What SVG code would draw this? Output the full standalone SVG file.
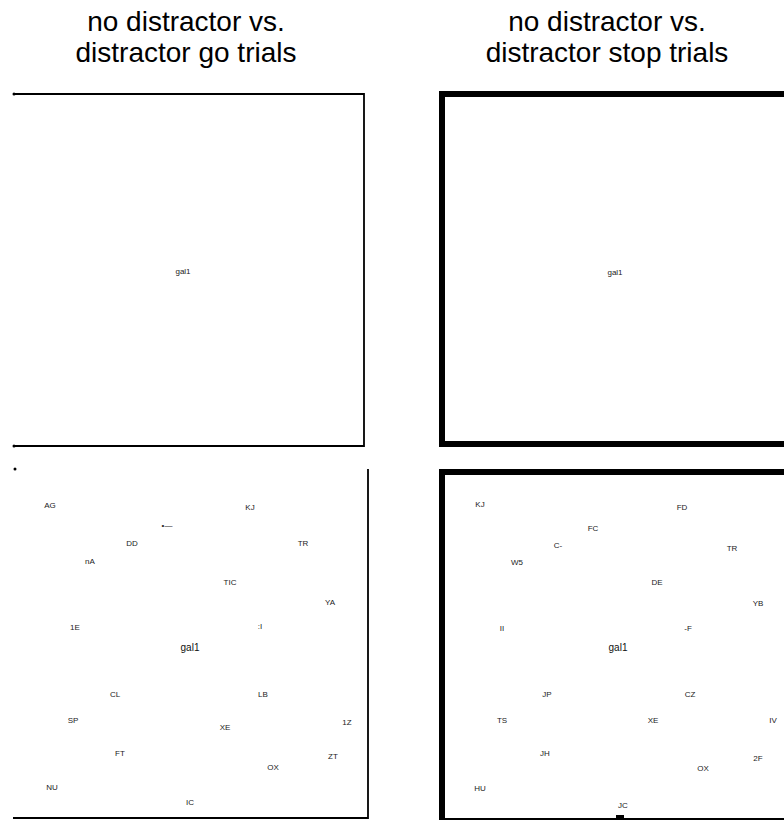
<svg xmlns="http://www.w3.org/2000/svg" width="784" height="820" viewBox="0 0 784 820">
  <style>
    .title { font-family: "Liberation Sans", Arial, sans-serif; font-size: 28px; fill: #000; text-anchor: middle; }
    .lbl { font-family: "Liberation Sans", Arial, sans-serif; font-size: 8px; fill: #222; text-anchor: middle; }
    .seed { font-family: "Liberation Sans", Arial, sans-serif; font-size: 10px; fill: #111; text-anchor: middle; }
    .thin { fill: none; stroke: #000; stroke-width: 1.8; }
    .thick { fill: none; stroke: #000; stroke-width: 6; }
  </style>
  <rect width="784" height="820" fill="#fff"/>

  <!-- column headings -->
  <g id="heading-go">
    <text class="title" x="186" y="31">no distractor vs.</text>
    <text class="title" x="186" y="62">distractor go trials</text>
  </g>
  <g id="heading-stop">
    <text class="title" x="607" y="31">no distractor vs.</text>
    <text class="title" x="607" y="62">distractor stop trials</text>
  </g>

  <!-- top-left panel: open frame, seed only -->
  <g id="panel-go-seed">
    <path class="thin" d="M13 94 H364 V446 H13"/>
    <circle cx="14" cy="94" r="1.5"/>
    <circle cx="14" cy="446" r="1.5"/>
    <text class="lbl" x="183" y="274">gal1</text>
  </g>

  <!-- top-right panel: heavy frame, seed only -->
  <g id="panel-stop-seed">
    <rect class="thick" x="442" y="94" width="352" height="350"/>
    <text class="lbl" x="615" y="275">gal1</text>
  </g>

  <!-- bottom-left panel: network layout -->
  <g id="panel-go-net">
    <path class="thin" d="M368 469 V818 H13"/>
    <circle cx="15" cy="469" r="1.5"/>
  </g>
  <g id="nodes-go" class="lbl">
    <text x="50" y="508">AG</text>
    <text x="250" y="510">KJ</text>
    <text x="167" y="528">•—</text>
    <text x="132" y="546">DD</text>
    <text x="90" y="564">nA</text>
    <text x="303" y="546">TR</text>
    <text x="230" y="585">TIC</text>
    <text x="330" y="605">YA</text>
    <text x="75" y="630">1E</text>
    <text x="260" y="629">:I</text>
    <text class="seed" x="190" y="651">gal1</text>
    <text x="115" y="697">CL</text>
    <text x="263" y="697">LB</text>
    <text x="73" y="723">SP</text>
    <text x="225" y="730">XE</text>
    <text x="347" y="725">1Z</text>
    <text x="120" y="756">FT</text>
    <text x="333" y="759">ZT</text>
    <text x="273" y="770">OX</text>
    <text x="52" y="790">NU</text>
    <text x="190" y="805">IC</text>
  </g>

  <!-- bottom-right panel: network layout -->
  <g id="panel-stop-net">
    <rect class="thick" x="442" y="472" width="352" height="349"/>
    <rect x="616" y="815" width="8" height="5" fill="#000"/>
  </g>
  <g id="nodes-stop" class="lbl">
    <text x="480" y="507">KJ</text>
    <text x="682" y="510">FD</text>
    <text x="593" y="531">FC</text>
    <text x="558" y="548">C-</text>
    <text x="517" y="565">W5</text>
    <text x="732" y="551">TR</text>
    <text x="657" y="585">DE</text>
    <text x="758" y="606">YB</text>
    <text x="502" y="631">II</text>
    <text x="688" y="631">-F</text>
    <text class="seed" x="618" y="651">gal1</text>
    <text x="547" y="697">JP</text>
    <text x="690" y="697">CZ</text>
    <text x="502" y="723">TS</text>
    <text x="653" y="723">XE</text>
    <text x="773" y="723">IV</text>
    <text x="545" y="756">JH</text>
    <text x="758" y="761">2F</text>
    <text x="703" y="771">OX</text>
    <text x="480" y="791">HU</text>
    <text x="623" y="808">JC</text>
  </g>
</svg>
